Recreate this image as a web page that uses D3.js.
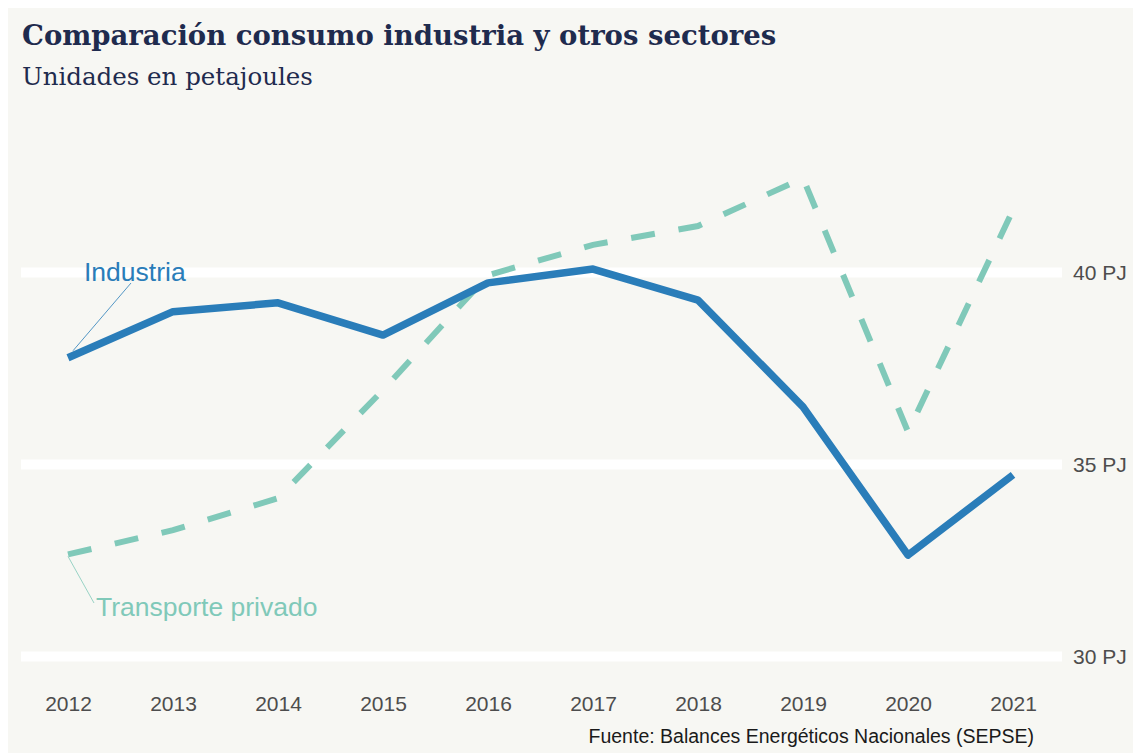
<!DOCTYPE html>
<html lang="es">
<head>
  <meta charset="utf-8">
  <title>Comparación consumo industria y otros sectores</title>
  <script src="https://d3js.org/d3.v7.min.js"></script>
  <style>
    body { margin: 0; background: #fff; }
    .titulo { font-family: "DejaVu Serif", serif; font-weight: bold; fill: #1f2b4e; }
    .subtitulo { font-family: "DejaVu Serif", serif; fill: #1f2b4e; }
    .eje text { font-family: "Liberation Sans", Arial, sans-serif; font-size: 21px; fill: #4d4d4d; }
    .fuente { font-family: "Liberation Sans", Arial, sans-serif; font-size: 19.5px; fill: #1a1a1a; }
    .etiqueta { font-family: "Liberation Sans", Arial, sans-serif; font-size: 26.5px; }
  </style>
</head>
<body>
<div id="chart"></div>
<script>
"use strict"

// datos (petajoules)
var anios = [2012, 2013, 2014, 2015, 2016, 2017, 2018, 2019, 2020, 2021];
var industria = [37.78, 38.98, 39.21, 38.37, 39.73, 40.09, 39.28, 36.50, 32.64, 34.73];
var transporte = [32.66, 33.29, 34.12, 36.94, 39.93, 40.72, 41.21, 42.46, 35.85, 41.63];
var ticksY = [30, 35, 40];

var ancho = 1133, alto = 753;

var svg = d3.select('#chart').append('svg')
    .attr('width', ancho)
    .attr('height', alto);

// panel de fondo
svg.append('rect')
    .attr('x', 8).attr('y', 8)
    .attr('width', ancho - 8).attr('height', alto - 8)
    .attr('fill', '#f7f7f3');

var x = d3.scaleLinear().domain([2012, 2021]).range([68, 1013]);
var y = d3.scaleLinear().domain([30, 40]).range([656.5, 272.5]);

// lineas de grilla blancas
svg.append('g').selectAll('line')
    .data(ticksY)
    .enter().append('line')
      .attr('x1', 21).attr('x2', 1062)
      .attr('y1', d => y(d)).attr('y2', d => y(d))
      .attr('stroke', '#ffffff')
      .attr('stroke-width', 10);

// eje y a la derecha
var ejeY = svg.append('g')
    .attr('class', 'eje')
    .attr('transform', 'translate(1062,0)')
    .call(d3.axisRight(y).tickValues(ticksY).tickSize(0).tickPadding(11).tickFormat(d => d + ' PJ'));
ejeY.select('.domain').remove();

// eje x
var ejeX = svg.append('g')
    .attr('class', 'eje')
    .attr('transform', 'translate(0,690)')
    .call(d3.axisBottom(x).tickValues(anios).tickSize(0).tickPadding(6).tickFormat(d3.format('d')));
ejeX.select('.domain').remove();

var linea = d3.line()
    .x((d, i) => x(anios[i]))
    .y(d => y(d));

svg.append('path')
    .datum(transporte)
    .attr('d', linea)
    .attr('fill', 'none')
    .attr('stroke', '#80c9b9')
    .attr('stroke-width', 6)
    .attr('stroke-dasharray', '24,24');

svg.append('path')
    .datum(industria)
    .attr('d', linea)
    .attr('fill', 'none')
    .attr('stroke', '#2a7db9')
    .attr('stroke-width', 7.5)
    .attr('stroke-linejoin', 'round');

// etiquetas con lineas guia
svg.append('line')
    .attr('x1', x(2012) + 5).attr('y1', y(industria[0]) - 7)
    .attr('x2', 131).attr('y2', 283)
    .attr('stroke', '#2a7db9').attr('stroke-width', 0.8);
svg.append('text')
    .attr('class', 'etiqueta')
    .attr('x', 84).attr('y', 281)
    .attr('fill', '#2a7db9')
    .text('Industria');

svg.append('line')
    .attr('x1', x(2012)).attr('y1', y(transporte[0]) + 2)
    .attr('x2', 94).attr('y2', 603)
    .attr('stroke', '#80c9b9').attr('stroke-width', 0.8);
svg.append('text')
    .attr('class', 'etiqueta')
    .attr('x', 96).attr('y', 616)
    .attr('fill', '#80c9b9')
    .text('Transporte privado');

// titulos
svg.append('text')
    .attr('class', 'titulo')
    .attr('x', 22).attr('y', 45)
    .style('font-size', '27.5px')
    .text('Comparación consumo industria y otros sectores');
svg.append('text')
    .attr('class', 'subtitulo')
    .attr('x', 22).attr('y', 85)
    .style('font-size', '24.5px')
    .text('Unidades en petajoules');

svg.append('text')
    .attr('class', 'fuente')
    .attr('x', 1034).attr('y', 743)
    .attr('text-anchor', 'end')
    .text('Fuente: Balances Energéticos Nacionales (SEPSE)');
</script>
</body>
</html>
